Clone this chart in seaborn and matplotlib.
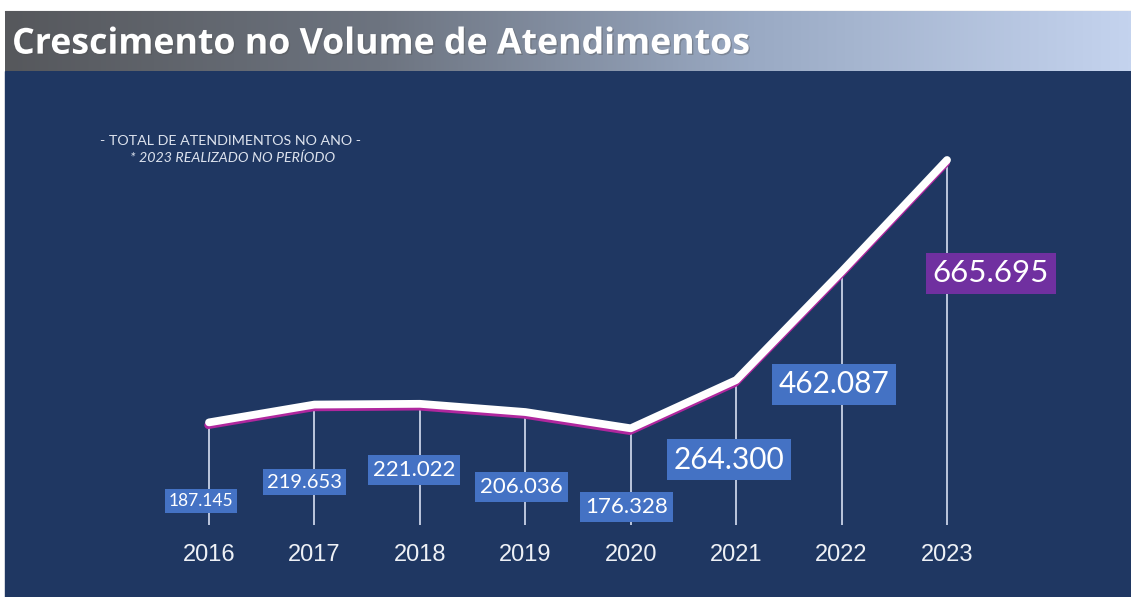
import numpy as np
import pandas as pd
import matplotlib
matplotlib.use("Agg")
import matplotlib.pyplot as plt
import matplotlib.patheffects as pe
import matplotlib.transforms as mtransforms
from matplotlib.patches import Rectangle
from matplotlib.colors import LinearSegmentedColormap
import seaborn as sns

# ---- data -------------------------------------------------------------
years = ["2016", "2017", "2018", "2019", "2020", "2021", "2022", "2023"]
atendimentos = [187145, 219653, 221022, 206036, 176328, 264300, 462087, 665695]

title = "Crescimento no Volume de Atendimentos"
note_1 = "- TOTAL DE ATENDIMENTOS NO ANO -"
note_2 = "* 2023 REALIZADO NO PERÍODO"

# ---- styling ----------------------------------------------------------
NAVY = "#1f3762"
BOX_BLUE = "#4472c4"
BOX_PURPLE = "#7030a0"
label_sizes = [12.5, 14.5, 16, 16, 16, 21.5, 21.5, 22.5]
label_boxes = [BOX_BLUE] * 7 + [BOX_PURPLE]
# offset of each value box from its point, in pixels (right, down)
label_offsets = [(-8, 77), (-10, 76), (-6, 64), (-4, 73),
                 (-4, 77), (-7, 77), (-8, 110), (44, 111)]

sns.set_style("white")
plt.rcParams["font.family"] = ["Lato", "DejaVu Sans"]

W, H = 1131, 597
fig = plt.figure(figsize=(W / 100, H / 100), dpi=100, facecolor="white")

# navy panel
fig.patches.append(Rectangle((5 / W, 0), (W - 5) / W, 526 / H,
                             transform=fig.transFigure, color=NAVY, zorder=-2))
# thin rule above the header
fig.patches.append(Rectangle((5 / W, 585 / H), (W - 5) / W, 1.2 / H,
                             transform=fig.transFigure, color="#cfcfcf", zorder=-2))

# gradient header
ax_t = fig.add_axes([5 / W, 526 / H, (W - 5) / W, 60 / H])
grad_cmap = LinearSegmentedColormap.from_list(
    "header", ["#56585c", "#6d7480", "#9aaac4", "#c4d3ee"])
ax_t.imshow(np.linspace(0, 1, 512)[None, :], aspect="auto", cmap=grad_cmap,
            extent=(0, 1, 0, 1))
ax_t.set_xlim(0, 1)
ax_t.set_ylim(0, 1)
ax_t.axis("off")
ax_t.text(7 / (W - 5), 0.44, title, color="white", fontsize=25.7,
          fontweight="bold", ha="left", va="center",
          family=["Open Sans", "DejaVu Sans"],
          path_effects=[pe.SimplePatchShadow(offset=(1, -1), alpha=0.35),
                        pe.Normal()])

# main plotting area covering the whole figure
ax = fig.add_axes([0, 0, 1, 1], facecolor="none")
ax.set_xlim(-1.9824, 8.745)
ax.set_ylim(-131314, 957505)
ax.axis("off")

df = pd.DataFrame({"pos": np.arange(len(years)), "valor": atendimentos})

# drop lines from the baseline to each point
ax.vlines(df["pos"], 0, df["valor"], color="#c8d2e6", lw=1.3, zorder=1)

sns.lineplot(data=df, x="pos", y="valor", ax=ax, color="white",
             linewidth=5.6, estimator=None, zorder=3,
             solid_capstyle="round", solid_joinstyle="round",
             path_effects=[pe.SimpleLineShadow(offset=(-0.6, -2.0),
                                               shadow_color="#b0279e",
                                               alpha=1.0),
                           pe.Normal()])
if ax.get_legend() is not None:
    ax.get_legend().remove()

# value boxes
for i, v in enumerate(atendimentos):
    txt = f"{v:,}".replace(",", ".")
    dx, dy = label_offsets[i]
    ax.annotate(txt, xy=(i, v), xytext=(dx, -dy), textcoords="offset pixels",
                ha="center", va="center_baseline", color="white",
                fontsize=label_sizes[i], zorder=5,
                bbox=dict(boxstyle="square,pad=0.22", fc=label_boxes[i],
                          ec="none"))

# year labels along the bottom
trans = mtransforms.blended_transform_factory(ax.transData, ax.transAxes)
for i, y in enumerate(years):
    ax.text(i, 42 / H, y, transform=trans, ha="center", va="center",
            color="#eef1f6", fontsize=17,
            family=["Liberation Sans", "DejaVu Sans"])

# notes
fig.text(230 / W, (H - 141) / H, note_1, ha="center", va="center",
         color="#dde3ee", fontsize=10.3)
fig.text(233 / W, (H - 158) / H, note_2, ha="center", va="center",
         color="#dde3ee", fontsize=10.3, style="italic")

fig.savefig("out.png", dpi=100, facecolor="white")
